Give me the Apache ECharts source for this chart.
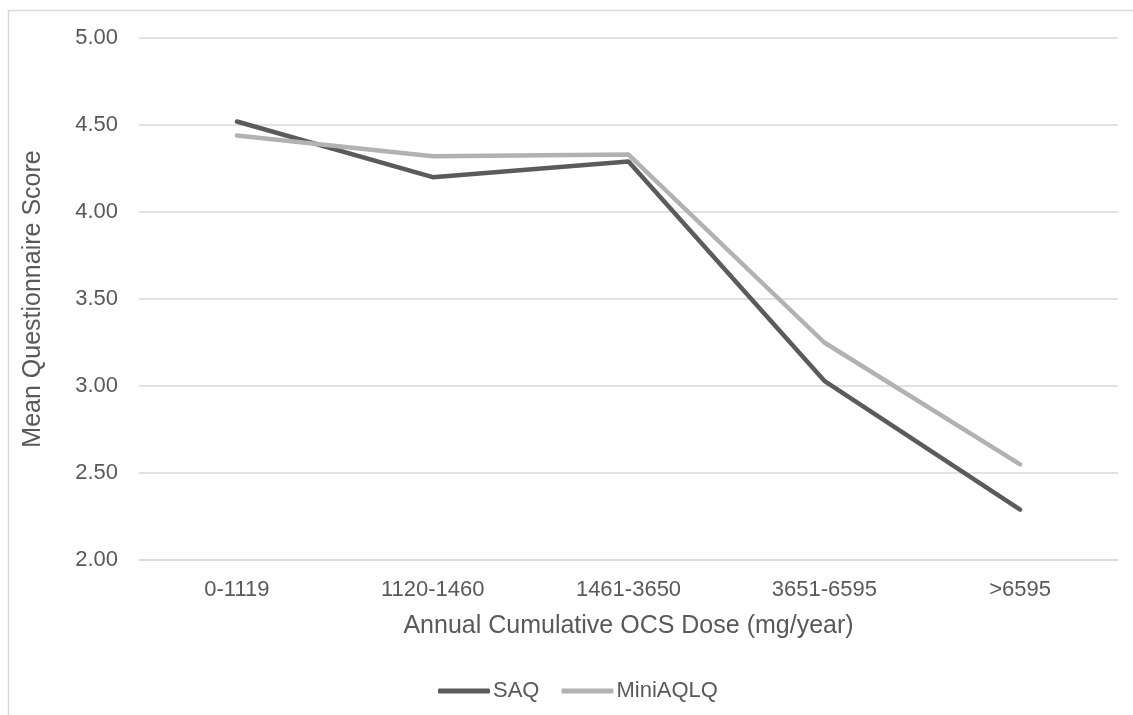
<!DOCTYPE html>
<html>
<head>
<meta charset="utf-8">
<script src="https://cdn.jsdelivr.net/npm/echarts@6/dist/echarts.min.js"></script>
<style>html,body{margin:0;padding:0;background:#fff;}#c{width:1133px;height:715px;}</style>
</head>
<body>
<div id="c"></div>
<script>
const categories = ['0-1119', '1120-1460', '1461-3650', '3651-6595', '>6595'];
const saq = [4.52, 4.20, 4.29, 3.03, 2.29];
const miniAqlq = [4.44, 4.32, 4.33, 3.25, 2.55];
const seriesNames = ['SAQ', 'MiniAQLQ'];
const xTitle = 'Annual Cumulative OCS Dose (mg/year)';
const yTitle = 'Mean Questionnaire Score';

const font = 'Liberation Sans, Arial, sans-serif';
const chart = echarts.init(document.getElementById('c'));
chart.setOption({
  animation: false,
  backgroundColor: '#fff',
  graphic: [{
    type: 'rect', shape: {x: 8.5, y: 10.5, width: 1140, height: 720},
    style: {fill: 'none', stroke: '#d9d9d9', lineWidth: 1.5}, silent: true
  }],
  grid: {left: 139, right: 15, top: 38, bottom: 155},
  legend: {
    data: seriesNames,
    top: 675, left: 433,
    icon: 'roundRect', itemWidth: 52, itemHeight: 5, itemGap: 22,
    textStyle: {color: '#595959', fontSize: 22, fontFamily: font, padding: [0, 0, 0, -2]}
  },
  xAxis: {
    type: 'category', data: categories, boundaryGap: true,
    axisLine: {show: true, lineStyle: {color: '#d9d9d9', width: 1.5}},
    axisTick: {show: false},
    axisLabel: {color: '#595959', fontSize: 22, fontFamily: font, margin: 19},
    name: xTitle, nameLocation: 'middle', nameGap: 54,
    nameTextStyle: {color: '#595959', fontSize: 25, fontFamily: font}
  },
  yAxis: {
    type: 'value', min: 2, max: 5, interval: 0.5,
    axisLine: {show: false}, axisTick: {show: false},
    splitLine: {lineStyle: {color: '#d9d9d9', width: 1.5}},
    axisLabel: {color: '#595959', fontSize: 22, fontFamily: font, margin: 21,
      formatter: v => v.toFixed(2)},
    name: yTitle, nameLocation: 'middle', nameGap: 93,
    nameTextStyle: {color: '#595959', fontSize: 25, fontFamily: font}
  },
  series: [
    {name: seriesNames[0], type: 'line', data: saq, symbol: 'none',
     lineStyle: {color: '#5b5b5b', width: 4.5, cap: 'round', join: 'round'}, itemStyle: {color: '#5b5b5b'}},
    {name: seriesNames[1], type: 'line', data: miniAqlq, symbol: 'none',
     lineStyle: {color: '#b2b2b2', width: 4.5, cap: 'round', join: 'round'}, itemStyle: {color: '#b2b2b2'}}
  ]
});
</script>
</body>
</html>
